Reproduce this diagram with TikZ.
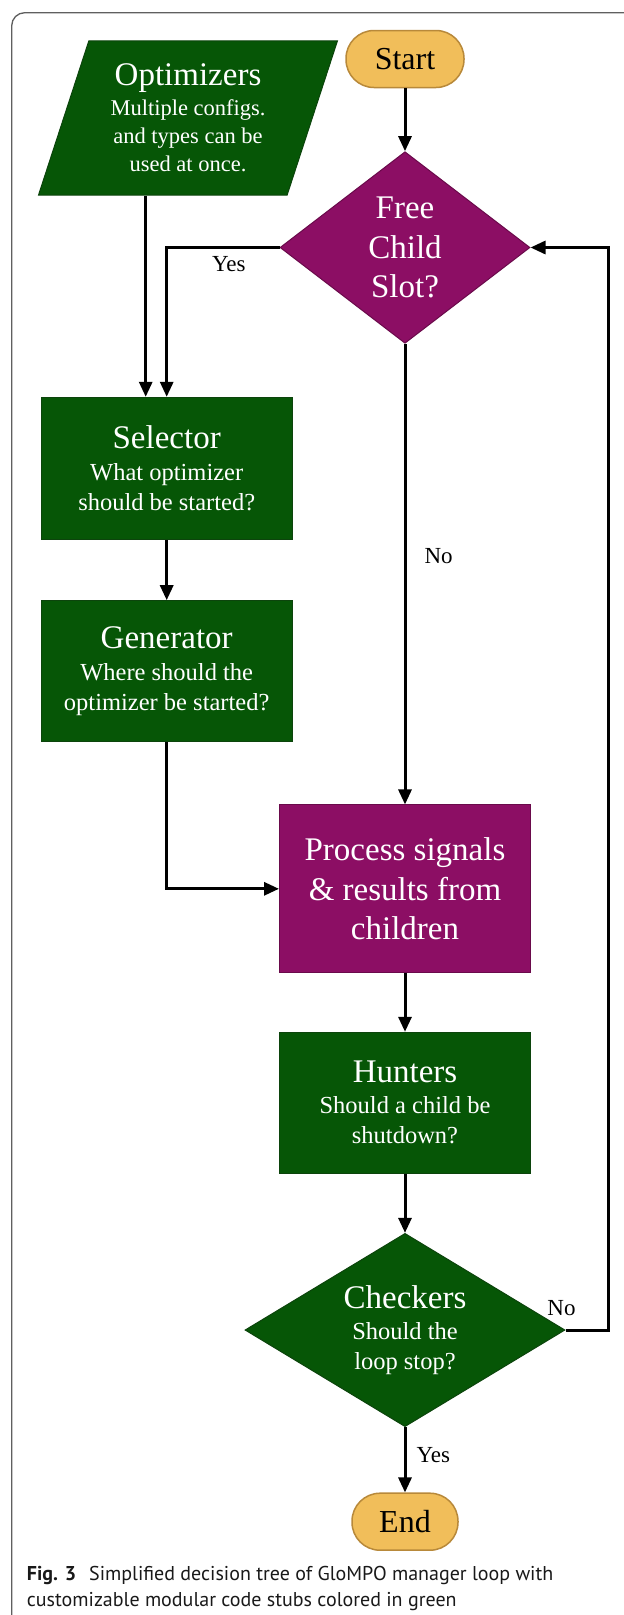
\documentclass[tikz,border=0pt]{standalone}
\usepackage{fontspec}
\setmainfont{Liberation Serif}
\newfontfamily\capfont{PT Sans}
\usepackage{tikz}
\usetikzlibrary{arrows.meta, positioning, shapes.geometric}
\definecolor{mGreen}{HTML}{065606}
\definecolor{mGreenEdge}{HTML}{0C440C}
\definecolor{mPurple}{HTML}{8C0E64}
\definecolor{mPurpleEdge}{HTML}{6A0A4B}
\definecolor{mGold}{HTML}{F1BE5A}
\definecolor{mGoldEdge}{HTML}{B8893A}
\definecolor{mFrame}{HTML}{5F5F5F}
\newcommand{\ttlsize}{\fontsize{33}{39.5}\selectfont}

\begin{document}
\begin{tikzpicture}[x=1pt, y=-1pt,
    box/.style={rectangle, fill=mGreen, draw=mGreenEdge, line width=1pt, text=white, align=center,
      inner sep=0pt, minimum width=251pt, font=\fontsize{24.5}{30}\selectfont},
    hub/.style={box, fill=mPurple, draw=mPurpleEdge},
    term/.style={rectangle, rounded corners=28pt, fill=mGold, draw=mGoldEdge, line width=1.5pt,
      inner sep=0pt, minimum height=57pt, font=\fontsize{32}{38}\selectfont},
    arr/.style={line width=3pt, -{Triangle[length=15pt, width=13pt]}},
    lbl/.style={inner sep=0pt, font=\fontsize{23}{27}\selectfont},
    capt/.style={inner sep=0pt, text=black!90, font=\capfont\fontsize{20}{25}\selectfont}]
    \useasboundingbox (0,0) rectangle (624,1615);
    \draw[mFrame, line width=1.3pt, rounded corners=13pt] (11.7,1615) -- (11.7,12.7) -- (624,12.7);

    \node[term, minimum width=118pt] (start) at (405,59) {Start};
    \node[box, shape=trapezium, trapezium left angle=70, trapezium right angle=110, trapezium stretches=true,
      minimum width=299.4pt, minimum height=154.3pt, font=\fontsize{22.5}{28}\selectfont] (opt) at (188,117.9)
      {{\ttlsize Optimizers}\\[2pt]Multiple configs.\\and types can be\\used at once.};
    \node[hub, shape=diamond, aspect=1.3, minimum width=250pt, minimum height=191.6pt, font=\ttlsize] (free) at (405,247.5)
      {Free\\Child\\Slot?};
    \node[box, minimum height=142pt] (sel) at (166.7,468.3) {{\ttlsize Selector}\\[1.7pt]What optimizer\\should be started?};
    \node[box, minimum height=141pt] (gen) at (166.7,671.2) {{\ttlsize Generator}\\[2.3pt]Where should the\\optimizer be started?};
    \node[hub, minimum height=167.7pt, font=\ttlsize] (proc) at (405,888.8) {Process signals\\\& results from\\children};
    \node[box, minimum height=141pt] (hunt) at (405,1102.8) {{\ttlsize Hunters}\\[1pt]Should a child be\\shutdown?};
    \node[box, shape=diamond, aspect=1.66, minimum width=320pt, minimum height=193.3pt] (check) at (405,1330)
      {{\ttlsize Checkers}\\[1.6pt]Should the\\loop stop?};
    \node[term, minimum width=106pt] (end) at (405,1521.7) {End};

    \coordinate (optin) at ([xshift=-21pt]sel.north);
    \draw[arr] (start) -- (free);
    \draw[arr] (opt.south -| optin) -- (optin);
    \draw[arr] (free.west) -| (sel.north) node[lbl, pos=0.225, below=7pt] {Yes};
    \draw[arr] (sel) -- (gen);
    \draw[arr] (gen.south) |- (proc.west);
    \draw[arr] (free) -- (proc) node[lbl, pos=0.46, right=18pt] {No};
    \draw[arr] (proc) -- (hunt);
    \draw[arr] (hunt) -- (check);
    \draw[arr] (check.east) node[lbl, anchor=base, xshift=-4pt, yshift=15pt] {No} -- ++(43.4,0) |- (free.east);
    \draw[arr] (check) -- (end) node[lbl, pos=0.42, right=10pt] {Yes};

    \node[capt, anchor=base west] (cap1) at (26.7,1580)
      {\textbf{Fig. 3}\hspace{13pt}Simplified decision tree of GloMPO manager loop with};
    \node[capt, anchor=base west] (cap2) at (26.7,1606) {customizable modular code stubs colored in green};
\end{tikzpicture}
\end{document}
